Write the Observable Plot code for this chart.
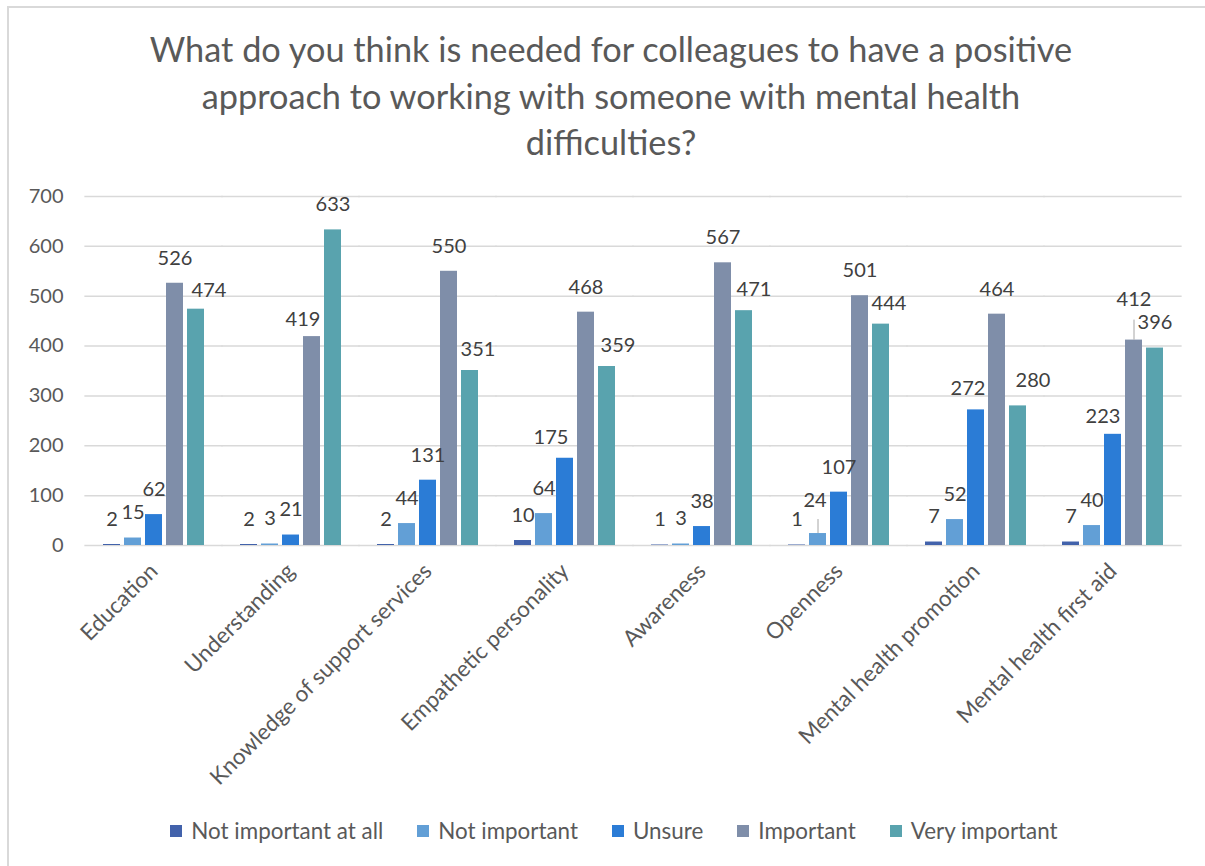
<!DOCTYPE html>
<html>
<head>
<meta charset="utf-8">
<script src="https://cdn.jsdelivr.net/npm/d3@7"></script>
<script src="https://cdn.jsdelivr.net/npm/@observablehq/plot@0.6"></script>
<style>
  html, body { margin: 0; padding: 0; background: #fff; overflow: hidden; }
  #root { position: relative; width: 1205px; height: 866px; overflow: hidden; font-family: Lato, "Open Sans", sans-serif; }
  #frame { position: absolute; left: 7px; top: 6px; width: 1300px; height: 1000px; border-left: 2px solid #d9d9d9; border-top: 2px solid #d9d9d9; }
  #title { position: absolute; left: 0; width: 1222px; top: 26px; text-align: center; color: #595959; font-size: 34.3px; line-height: 46.5px; }
  #chart { position: absolute; left: 0; top: 170px; }
  #legend { position: absolute; left: 0; width: 1228px; top: 818px; display: flex; justify-content: center; gap: 34px; color: #595959; font-size: 22.4px; line-height: 26px; }
  .item { display: flex; align-items: center; gap: 9px; }
  .sw { width: 12px; height: 12px; display: inline-block; }
</style>
</head>
<body>
<div id="root">
  <div id="frame"></div>
  <div id="title">What do you think is needed for colleagues to have a positive<br>approach to working with someone with mental health<br>difficulties?</div>
  <div id="chart"></div>
  <div id="legend"></div>
</div>
<script>
const categories = ["Education", "Understanding", "Knowledge of support services", "Empathetic personality", "Awareness", "Openness", "Mental health promotion", "Mental health first aid"];
const series = ["Not important at all", "Not important", "Unsure", "Important", "Very important"];
const colors = ["#4262AB", "#629FD6", "#2B7CD6", "#7F8EA9", "#59A3AE"];
const notImportantAtAll = [2, 2, 2, 10, 1, 1, 7, 7];
const notImportant = [15, 3, 44, 64, 3, 24, 52, 40];
const unsure = [62, 21, 131, 175, 38, 107, 272, 223];
const important = [526, 419, 550, 468, 567, 501, 464, 412];
const veryImportant = [474, 633, 351, 359, 471, 444, 280, 396];
const yTicks = [0, 100, 200, 300, 400, 500, 600, 700];

const seriesValues = [notImportantAtAll, notImportant, unsure, important, veryImportant];
const data = [];
categories.forEach((c, i) => {
  series.forEach((s, j) => data.push({category: c, series: s, value: seriesValues[j][i]}));
});
const gridData = [];
categories.forEach(c => yTicks.forEach(t => gridData.push({category: c, tick: t})));

// layout
const W = 1205, H = 630, ML = 84, MR = 23, MT = 26, MB = 255;
const PI = 0.235;
const stepPx = (W - ML - MR) / categories.length;
const gapHalf = PI * stepPx / 2 + 0.5;
const pxPerUnit = (H - MT - MB) / 700;

// label placement tweaks (mimic the spreadsheet's label collision avoidance): key -> [dx, dy]
const labelShift = {
  "Education|Very important": [13, -19],
  "Understanding|Important": [-9, -17],
  "Knowledge of support services|Very important": [8, -21],
  "Empathetic personality|Very important": [11, -21],
  "Empathetic personality|Unsure": [-14, -21],
  "Awareness|Very important": [10, -21],
  "Openness|Very important": [8, -21],
  "Openness|Not important": [-3, -33],
  "Mental health promotion|Unsure": [-8, -21],
  "Mental health promotion|Very important": [15, -25],
  "Mental health first aid|Unsure": [-10, -18],
  "Mental health first aid|Important": [0, -40]
};
const leaders = {"Openness|Not important": 14, "Mental health first aid|Important": 20};
const keyOf = d => d.category + "|" + d.series;

const shiftGroups = d3.groups(data, d => (labelShift[keyOf(d)] || [0, -25]).join(","));
const textMarks = shiftGroups.map(([k, rows]) => {
  const [dx, dy] = k.split(",").map(Number);
  return Plot.text(rows, {fx: "category", x: "series", y: "value", text: d => String(d.value), dx, dy, fontSize: 20, fill: "#404040"});
});
const leaderRows = data.filter(d => leaders[keyOf(d)]);

const chart = Plot.plot({
  width: W,
  height: H,
  marginLeft: ML,
  marginRight: MR,
  marginTop: MT,
  marginBottom: MB,
  style: {fontFamily: "Lato, 'Open Sans', sans-serif", color: "#595959", background: "transparent"},
  fx: {domain: categories, paddingInner: PI, paddingOuter: PI / 2, label: null, axis: null},
  x: {domain: series, paddingInner: 0.2, paddingOuter: 0, axis: null},
  y: {domain: [0, 700], axis: null},
  color: {domain: series, range: colors},
  marks: [
    Plot.ruleY(gridData, {fx: "category", y: "tick", stroke: "#d9d9d9", strokeWidth: 1.5, insetLeft: -gapHalf, insetRight: -gapHalf}),
    Plot.axisY({ticks: yTicks, tickSize: 0, tickPadding: 38, fontSize: 20, label: null}),
    Plot.barY(data, {fx: "category", x: "series", y: "value", fill: "series"}),
    Plot.ruleX(leaderRows, {fx: "category", x: "series", y1: "value", y2: d => d.value + leaders[keyOf(d)] / pxPerUnit, stroke: "#a6a6a6", strokeWidth: 1}),
    ...textMarks,
    Plot.axisFx({anchor: "bottom", tickRotate: -45, tickSize: 0, tickPadding: 22, fontSize: 22.4, label: null})
  ]
});
document.getElementById("chart").appendChild(chart);

const legend = document.getElementById("legend");
series.forEach((s, i) => {
  const item = document.createElement("div");
  item.className = "item";
  const sw = document.createElement("span");
  sw.className = "sw";
  sw.style.background = colors[i];
  const t = document.createElement("span");
  t.textContent = s;
  item.appendChild(sw);
  item.appendChild(t);
  legend.appendChild(item);
});
</script>
</body>
</html>
